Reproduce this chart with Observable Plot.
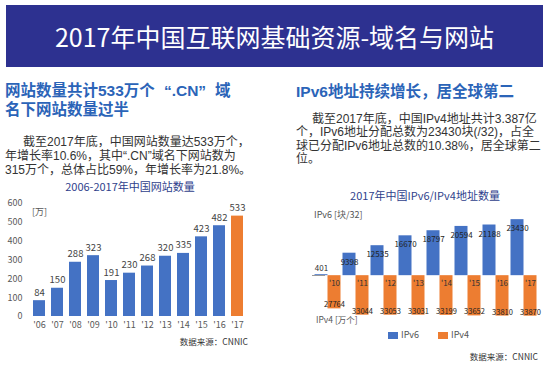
<!DOCTYPE html>
<html>
<head>
<meta charset="utf-8">
<script src="https://cdn.jsdelivr.net/npm/d3@7"></script>
<script src="https://cdn.jsdelivr.net/npm/@observablehq/plot@0.6"></script>
<style>
  html, body { margin: 0; padding: 0; background: #fff; }
  #page { position: relative; width: 550px; height: 369px; overflow: hidden; background: #fff;
          font-family: "Noto Sans CJK SC", "Noto Sans", sans-serif; }
  .abs { position: absolute; white-space: nowrap; }
  #banner { left: 6px; top: 5px; width: 537px; height: 62px; background: #2d3190; color: #fff;
            font-size: 25px; line-height: 62px; text-align: center; }
  .head { color: #2b64b8; font-weight: bold; font-family: "Liberation Sans", "Noto Sans CJK SC", sans-serif; }
  .para { color: #333; font-size: 12px; font-family: "Liberation Sans", "Noto Sans CJK SC", sans-serif; }
  .ctitle { color: #2f3f8c; font-size: 11px; line-height: 14px; text-align: center; }
  .small { color: #555; font-size: 9px; line-height: 12px; }
  .src { color: #333; font-size: 8.5px; line-height: 12px; text-align: right; }
  .sw { position: absolute; width: 10px; height: 7px; }
</style>
</head>
<body>
<div id="page">
  <div id="banner" class="abs">2017年中国互联网基础资源-域名与网站</div>

  <div class="abs head" style="left:5px; top:81px; font-size:15.5px; line-height:19px;">网站数量共计533万个<span style="margin-left:9px">“</span>.CN<span style="margin-right:9px">”</span>域<br>名下网站数量过半</div>
  <div class="abs para" style="left:5px; top:135px; line-height:14px;"><span style="padding-left:18px"></span>截至2017年底，中国网站数量达533万个，<br>年增长率10.6%，其中“.CN”域名下网站数为<br>315万个，总体占比59%，年增长率为21.8%。</div>

  <div class="abs head" style="left:296px; top:82px; font-size:15.5px; line-height:20px;">IPv6地址持续增长，居全球第二</div>
  <div class="abs para" style="left:296px; top:112.5px; line-height:13.5px;"><span style="padding-left:16px"></span>截至2017年底，中国IPv4地址共计3.387亿<br>个，IPv6地址分配总数为23430块(/32)，占全<br>球已分配IPv6地址总数的10.38%，居全球第二<br>位。</div>

  <div class="abs ctitle" style="left:0px; top:179px; width:260px;">2006-2017年中国网站数量</div>
  <div id="left" class="abs" style="left:0px; top:190px;"></div>
  <div class="abs small" style="left:32px; top:206px;">[万]</div>
  <div class="abs src" style="left:148px; top:335px; width:100px;">数据来源：CNNIC</div>

  <div class="abs ctitle" style="left:335px; top:188px; width:180px;">2017年中国IPv6/IPv4地址数量</div>
  <div id="right" class="abs" style="left:300px; top:205px;"></div>
  <div class="abs small" style="left:314px; top:209px;">IPv6 [块/32]</div>
  <div class="abs small" style="left:316px; top:313px; font-size:8.5px;">IPv4 [万个]</div>
  <div class="abs" style="left:312px; top:275px; width:13px; height:1px; background:#999;"></div>
  <div class="sw" style="left:388px; top:332px; background:#4472c4;"></div>
  <div class="abs small" style="left:401px; top:329px;">IPv6</div>
  <div class="sw" style="left:438px; top:332px; background:#ed7d31;"></div>
  <div class="abs small" style="left:451px; top:329px;">IPv4</div>
  <div class="abs src" style="left:438px; top:350px; width:100px;">数据来源：CNNIC</div>
</div>
<script>
// ---- Left chart data: website counts (万) ----
const siteYears = ["'06", "'07", "'08", "'09", "'10", "'11", "'12", "'13", "'14", "'15", "'16", "'17"];
const siteCounts = [84, 150, 288, 323, 191, 230, 268, 320, 335, 423, 482, 533];
const siteTicks = [0, 100, 200, 300, 400, 500, 600];

// ---- Right chart data ----
const ipYears = ["'10", "'11", "'12", "'13", "'14", "'15", "'16", "'17"];
const ipv6Blocks = [401, 9398, 12535, 16670, 18797, 20594, 21188, 23430];   // 块/32
const ipv4Counts = [27764, 33044, 33053, 33031, 33199, 33652, 33810, 33870]; // 万个
const ipSeries = ["IPv6", "IPv4"];

const BLUE = "#4472c4", ORANGE = "#ed7d31";
const FONT = "'Noto Sans CJK SC', 'Open Sans', sans-serif";

const siteData = siteYears.map((y, i) => ({year: y, count: siteCounts[i], group: y === "'17" ? "latest" : "past"}));

const left = Plot.plot({
  width: 270, height: 145,
  marginTop: 13, marginBottom: 19, marginLeft: 25, marginRight: 19.5,
  style: {fontFamily: FONT, fontSize: "9px", color: "#595959", background: "transparent"},
  x: {domain: siteYears, padding: 0.34, tickSize: 0, tickPadding: 5, label: null},
  y: {domain: [0, 600], ticks: siteTicks, tickSize: 0, tickPadding: 3, label: null},
  color: {domain: ["past", "latest"], range: [BLUE, ORANGE]},
  marks: [
    Plot.barY(siteData, {x: "year", y: "count", fill: "group"}),
    Plot.text(siteData, {x: "year", y: "count", text: d => String(d.count), dy: -8, fill: "#444", fontSize: 9.5})
  ]
});
document.getElementById("left").appendChild(left);

// IPv4 bars drawn downward on a shared axis with a ratio (secondary axis in the original)
const ipv4Ratio = 0.5;
const ipRows = [];
ipYears.forEach((yr, i) => {
  ipRows.push({year: yr, series: "IPv6", value: ipv6Blocks[i], y: ipv6Blocks[i]});
  ipRows.push({year: yr, series: "IPv4", value: ipv4Counts[i], y: -ipv4Counts[i] * ipv4Ratio});
});
const v6 = ipRows.filter(d => d.series === "IPv6");
const v4 = ipRows.filter(d => d.series === "IPv4");

const right = Plot.plot({
  width: 250, height: 125,
  marginTop: 8, marginBottom: 7, marginLeft: 11.5, marginRight: 10.5,
  style: {fontFamily: FONT, fontSize: "8px", color: "#333", background: "transparent"},
  fx: {domain: ipYears, padding: 0.06, axis: null, label: null},
  x: {domain: ipSeries, padding: 0, axis: null},
  y: {domain: [-20000, 26000], axis: null},
  color: {domain: ipSeries, range: [BLUE, ORANGE]},
  marks: [
    Plot.barY(ipRows, {fx: "year", x: "series", y: "y", fill: "series"}),
    Plot.text(v6.filter(d => d.value >= 2000), {fx: "year", x: "series", y: "y", text: d => String(d.value), dy: 9, fill: "#222", fontSize: 8}),
    Plot.text(v6.filter(d => d.value < 2000), {fx: "year", x: "series", y: "y", text: d => String(d.value), dy: -6, fill: "#333", fontSize: 8}),
    Plot.text(v4, {fx: "year", x: "series", y: "y", text: d => String(d.value), dy: -4, fill: "#222", fontSize: 7.5}),
    Plot.text(v4, {fx: "year", x: "series", y: 0, text: "year", dy: 8, fill: "#333", fontSize: 8})
  ]
});
document.getElementById("right").appendChild(right);
</script>
</body>
</html>
